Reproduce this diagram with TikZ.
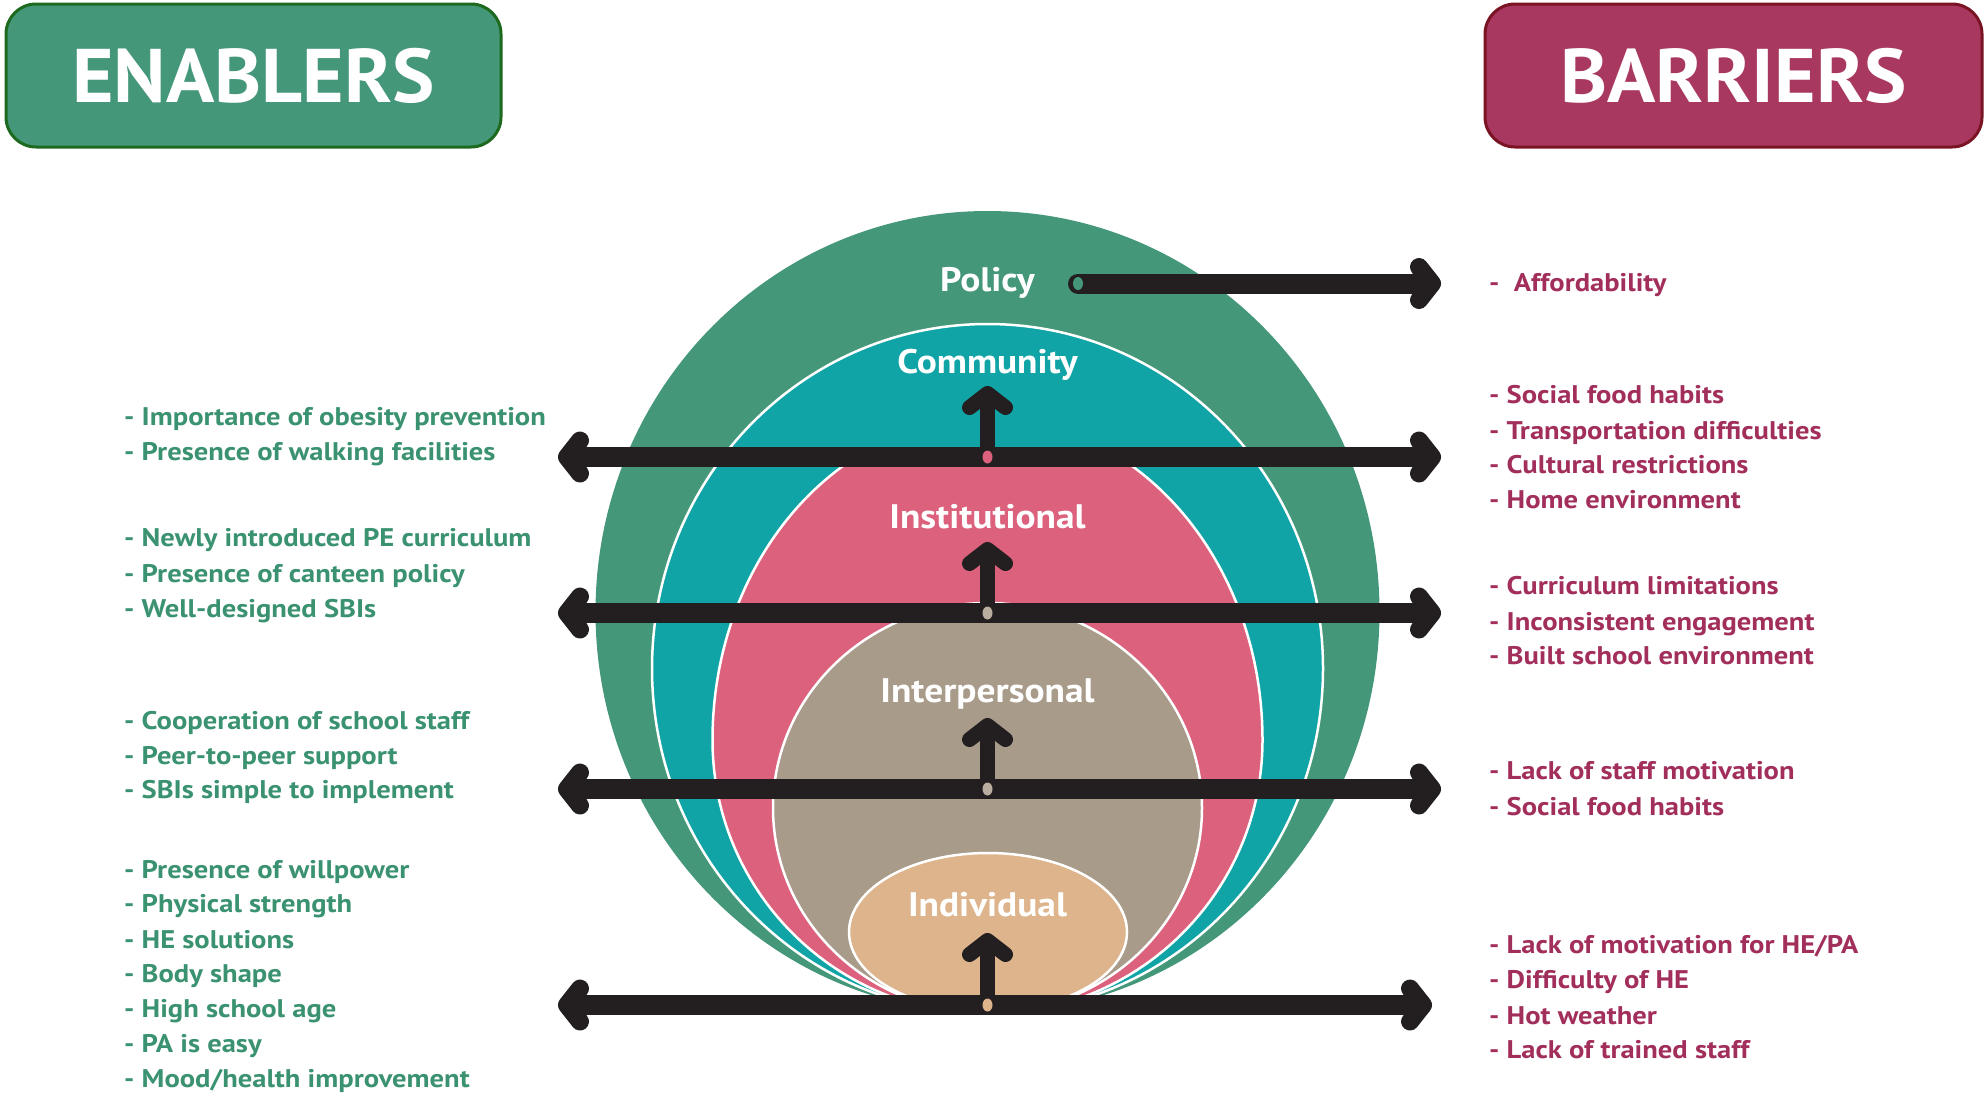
\documentclass[tikz,border=0pt]{standalone}
\usepackage{fontspec}
\setmainfont{PT Sans}
\newfontfamily\hdrfont{PT Sans}[FakeStretch=1.05]
\newfontfamily\lvlfont{PT Sans}[FakeStretch=1.1]
\newfontfamily\listfont{PT Sans}[FakeStretch=1.12]
\usetikzlibrary{arrows.meta}
\definecolor{engreen}{HTML}{45977A}
\definecolor{enborder}{HTML}{1D6A1F}
\definecolor{bared}{HTML}{A8385F}
\definecolor{baborder}{HTML}{7A1424}
\definecolor{entext}{HTML}{3A9270}
\definecolor{batext}{HTML}{A22E5B}
\definecolor{cpol}{HTML}{45977A}
\definecolor{ccom}{HTML}{10A4A6}
\definecolor{cins}{HTML}{DB617D}
\definecolor{cint}{HTML}{A89B8A}
\definecolor{cintdot}{HTML}{B9AE9F}
\definecolor{cind}{HTML}{DDB48B}
\definecolor{ablack}{HTML}{231F20}
\tikzset{
  HT/.tip={Straight Barb[length=13pt,width=33pt,line width=18pt,round]},
  VT/.tip={Straight Barb[length=14pt,width=36pt,line width=15pt,round]},
  hdr/.style={rounded corners=30pt, line width=3pt, minimum width=495pt, minimum height=143pt,
    text=white, font=\hdrfont\fontsize{76}{80}\selectfont\bfseries, inner sep=0pt},
  lvl/.style={text=white, font=\lvlfont\fontsize{34}{36}\selectfont\bfseries, inner sep=0pt},
  layer/.style={draw=white, line width=2.5pt},
  hbar/.style={draw=ablack, line width=20pt},
  vbar/.style={draw=ablack, line width=15pt, -VT},
  entxt/.style={anchor=base west, text=entext, font=\listfont\fontsize{25.5}{30}\selectfont\bfseries, inner sep=0pt},
  batxt/.style={anchor=base west, text=batext, font=\listfont\fontsize{25.5}{30}\selectfont\bfseries, inner sep=0pt},
}
\begin{document}
\begin{tikzpicture}[x=1pt,y=-1pt]
\useasboundingbox (0,0) rectangle (1985,1095);
% headers
\node[hdr, fill=engreen, draw=enborder] (enablers) at (253.5,75.5) {ENABLERS};
\node[hdr, fill=bared, draw=baborder, minimum width=497pt] (barriers) at (1733.5,75.5) {BARRIERS};
% layers
\fill[cpol] (987.5,612) ellipse [x radius=392, y radius=401];
\filldraw[layer, fill=ccom] (987.5,668.5) ellipse [x radius=335.5, y radius=344.5];
\begin{scope}
  \clip (0,450) rectangle (1985,1095);
  \filldraw[layer, fill=cins] (712.5,740) arc[start angle=180, end angle=360, x radius=275, y radius=322]
    arc[start angle=0, end angle=180, x radius=275, y radius=274] -- cycle;
\end{scope}
\filldraw[layer, fill=cint] (987.5,808) ellipse [x radius=214.5, y radius=205];
\filldraw[layer, fill=cind] (988,932) ellipse [x radius=139, y radius=79];
% level labels
\node[lvl] (policy) at (987.5,282.5) {Policy};
\node[lvl] (community) at (987.5,365) {Community};
\node[lvl] (institutional) at (987.5,516.5) {Institutional};
\node[lvl] (interpersonal) at (987.5,694) {Interpersonal};
\node[lvl] (individual) at (987.5,905) {Individual};
% arrow coordinates
\coordinate (p0) at (1078,283.5); \coordinate (p1) at (1441,283.5);
\coordinate (a0) at (558,457); \coordinate (a1) at (1441,457); \coordinate (ac) at (987.5,457); \coordinate (at) at (987.5,386);
\coordinate (b0) at (558,613); \coordinate (b1) at (1441,613); \coordinate (bc) at (987.5,613); \coordinate (bt) at (987.5,542);
\coordinate (c0) at (558,789); \coordinate (c1) at (1441,789); \coordinate (cc) at (987.5,789); \coordinate (ct) at (987.5,718);
\coordinate (d0) at (558,1005); \coordinate (d1) at (1432,1005); \coordinate (dc) at (987.5,1005); \coordinate (dt) at (987.5,933);
% arrows
\draw[hbar, line cap=round, -HT] (p0) -- (p1);
\draw[hbar, HT-HT] (a0) -- (a1);
\draw[hbar, HT-HT] (b0) -- (b1);
\draw[hbar, HT-HT] (c0) -- (c1);
\draw[hbar, HT-HT] (d0) -- (d1);
\draw[vbar] (ac) -- (at);
\draw[vbar] (bc) -- (bt);
\draw[vbar] (cc) -- (ct);
\draw[vbar] (dc) -- (dt);
% dots
\fill[cpol] (p0) ellipse [x radius=5, y radius=6.5];
\fill[cins] (ac) ellipse [x radius=5, y radius=6.5];
\fill[cintdot] (bc) ellipse [x radius=5, y radius=6.5];
\fill[cintdot] (cc) ellipse [x radius=5, y radius=6.5];
\fill[cind] (dc) ellipse [x radius=5, y radius=6.5];
% enablers text
\foreach \yy/\txt [count=\i] in {425/{- Importance of obesity prevention}, 460.5/{- Presence of walking facilities},
  546.5/{- Newly introduced PE curriculum}, 582/{- Presence of canteen policy}, 617.5/{- Well-designed SBIs},
  729/{- Cooperation of school staff}, 764/{- Peer-to-peer support}, 798.5/{- SBIs simple to implement},
  878/{- Presence of willpower}, 912.5/{- Physical strength}, 948/{- HE solutions}, 982/{- Body shape},
  1017.5/{- High school age}, 1052/{- PA is easy}, 1087/{- Mood/health improvement}}
  \node[entxt] (en\i) at (124,\yy) {\txt};
% barriers text
\foreach \yy/\txt [count=\i] in {291/{-~ Affordability},
  403.5/{- Social food habits}, 439/{- Transportation difficulties}, 473/{- Cultural restrictions}, 508.5/{- Home environment},
  594.5/{- Curriculum limitations}, 630/{- Inconsistent engagement}, 664.5/{- Built school environment},
  779.5/{- Lack of staff motivation}, 815/{- Social food habits},
  953/{- Lack of motivation for HE/PA}, 988.5/{- Difficulty of HE}, 1024/{- Hot weather}, 1058/{- Lack of trained staff}}
  \node[batxt] (ba\i) at (1489,\yy) {\txt};
\end{tikzpicture}
\end{document}
